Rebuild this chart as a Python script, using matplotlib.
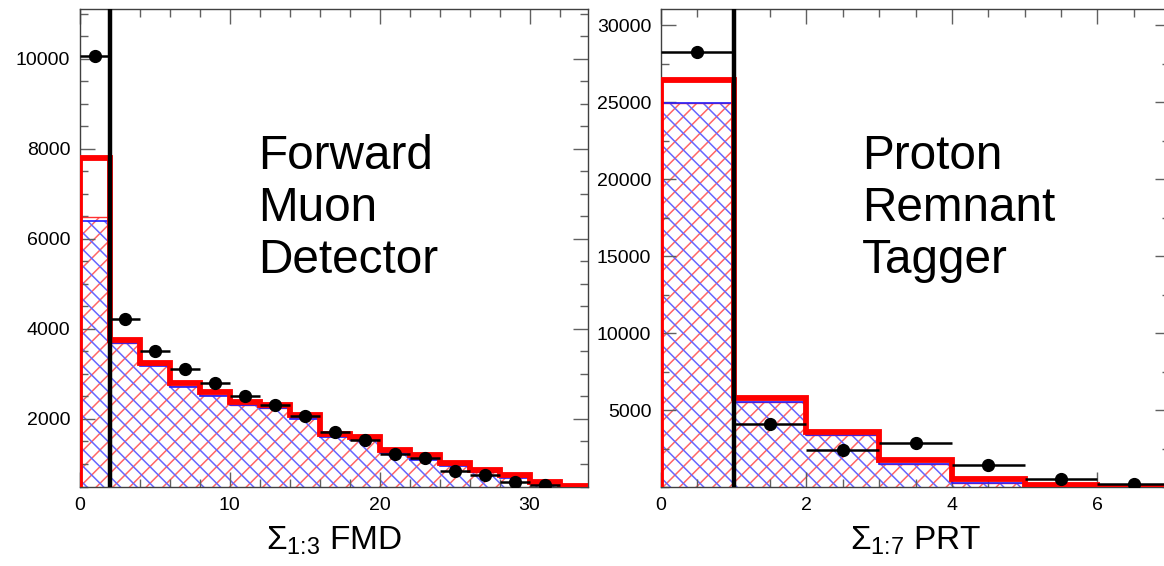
import numpy as np
import matplotlib
matplotlib.use("Agg")
import matplotlib.pyplot as plt
from matplotlib.ticker import MultipleLocator

plt.rcParams['font.family'] = ['Liberation Sans', 'DejaVu Sans']
plt.rcParams['mathtext.fontset'] = 'custom'
plt.rcParams['mathtext.rm'] = 'Liberation Sans'
plt.rcParams['mathtext.it'] = 'Liberation Sans:italic'
plt.rcParams['mathtext.bf'] = 'Liberation Sans:bold'
plt.rcParams['hatch.linewidth'] = 1.1

# ---------------- FMD panel data ----------------
fmd_edges = [0, 2, 4, 6, 8, 10, 12, 14, 16, 18, 20, 22, 24, 26, 28, 30, 32, 34]
fmd_total = [7800, 3750, 3235, 2790, 2590, 2375, 2305, 2080, 1665, 1590,
             1305, 1200, 1015, 865, 755, 600, 520]
fmd_red_hatch = [6480, 3690, 3190, 2730, 2530, 2310, 2250, 2020, 1620, 1540,
                 1260, 1110, 970, 830, 710, 570, 505]
fmd_blue_hatch = [6400, 3680, 3180, 2720, 2520, 2300, 2240, 2010, 1610, 1530,
                  1250, 1100, 960, 820, 700, 560, 500]
fmd_data_x = [1, 3, 5, 7, 9, 11, 13, 15, 17, 19, 21, 23, 25, 27, 29, 31]
fmd_data_y = [10060, 4215, 3500, 3111, 2793, 2519, 2311, 2067, 1704, 1533,
              1215, 1126, 852, 756, 607, 540]
fmd_cut = 2

# ---------------- PRT panel data ----------------
prt_edges = [0, 1, 2, 3, 4, 5, 6, 7]
prt_total = [26450, 5760, 3590, 1750, 550, 150, 30]
prt_red_hatch = [24950, 5540, 3370, 1520, 270, 60, 10]
prt_blue_hatch = [24950, 5540, 3370, 1520, 270, 60, 10]
prt_data_x = [0.5, 1.5, 2.5, 3.5, 4.5, 5.5, 6.5]
prt_data_y = [28280, 4110, 2380, 2850, 1420, 490, 165]
prt_cut = 1

W, H = 1164, 566
fig = plt.figure(figsize=(W / 100, H / 100), dpi=100)
ax1 = fig.add_axes([80 / W, 79 / H, 508 / W, 478 / H])
ax2 = fig.add_axes([661 / W, 79 / H, 509 / W, 478 / H])

RED_H = (1.0, 0.4, 0.4)
BLUE_H = (0.4, 0.4, 1.0)


def draw_panel(ax, edges, total, red_h, blue_h, dx, dy, cut, xlim, ylim):
    ax.stairs(red_h, edges, baseline=0, fill=True, facecolor='none',
              edgecolor=RED_H, hatch='//', linewidth=0, zorder=1)
    ax.stairs(blue_h, edges, baseline=0, fill=True, facecolor='none',
              edgecolor=BLUE_H, hatch='\\\\', linewidth=0, zorder=1)
    ax.stairs(red_h, edges, baseline=0, fill=False, edgecolor='#ff3030',
              linewidth=1.0, zorder=2)
    ax.stairs(blue_h, edges, baseline=0, fill=False, edgecolor='#2020ff',
              linewidth=1.2, zorder=2)
    ax.stairs(total, edges, baseline=0, fill=False, edgecolor='#ff0000',
              linewidth=4.2, zorder=3)
    ax.axvline(cut, color='black', linewidth=3.2, zorder=4)
    half = (edges[1] - edges[0]) / 2
    ax.errorbar(dx, dy, xerr=half, fmt='o', color='black', ms=8.5,
                elinewidth=1.8, capsize=0, zorder=5)
    ax.set_xlim(*xlim)
    ax.set_ylim(*ylim)
    ax.tick_params(which='both', direction='in', top=True, right=True,
                   labelsize=14, color='#606060', pad=7)
    ax.tick_params(which='major', length=11, width=1)
    ax.tick_params(which='minor', length=5.5, width=1)
    for s in ax.spines.values():
        s.set_color('#404040')
        s.set_linewidth(1.0)


draw_panel(ax1, fmd_edges, fmd_total, fmd_red_hatch, fmd_blue_hatch,
           fmd_data_x, fmd_data_y, fmd_cut, (0, 33.9), (490, 11100))
ax1.xaxis.set_major_locator(MultipleLocator(10))
ax1.xaxis.set_minor_locator(MultipleLocator(2))
ax1.yaxis.set_major_locator(MultipleLocator(2000))
ax1.yaxis.set_minor_locator(MultipleLocator(500))
ax1.set_xlabel(r'$\Sigma_{\text{1:3}}$ FMD', fontsize=24, labelpad=8)

draw_panel(ax2, prt_edges, prt_total, prt_red_hatch, prt_blue_hatch,
           prt_data_x, prt_data_y, prt_cut, (0, 7), (0, 31040))
ax2.xaxis.set_major_locator(MultipleLocator(2))
ax2.xaxis.set_minor_locator(MultipleLocator(0.5))
ax2.yaxis.set_major_locator(MultipleLocator(5000))
ax2.yaxis.set_minor_locator(MultipleLocator(2500))
ax2.set_yticks([5000, 10000, 15000, 20000, 25000, 30000])
ax2.set_xlabel(r'$\Sigma_{\text{1:7}}$ PRT', fontsize=24, labelpad=8)

fig.text(258 / W, 1 - 134 / H, "Forward\nMuon\nDetector", fontsize=34.4,
         va='top', ha='left', linespacing=1.2)
fig.text(862 / W, 1 - 134 / H, "Proton\nRemnant\nTagger", fontsize=34.4,
         va='top', ha='left', linespacing=1.2)

fig.savefig("out.png", dpi=100)
